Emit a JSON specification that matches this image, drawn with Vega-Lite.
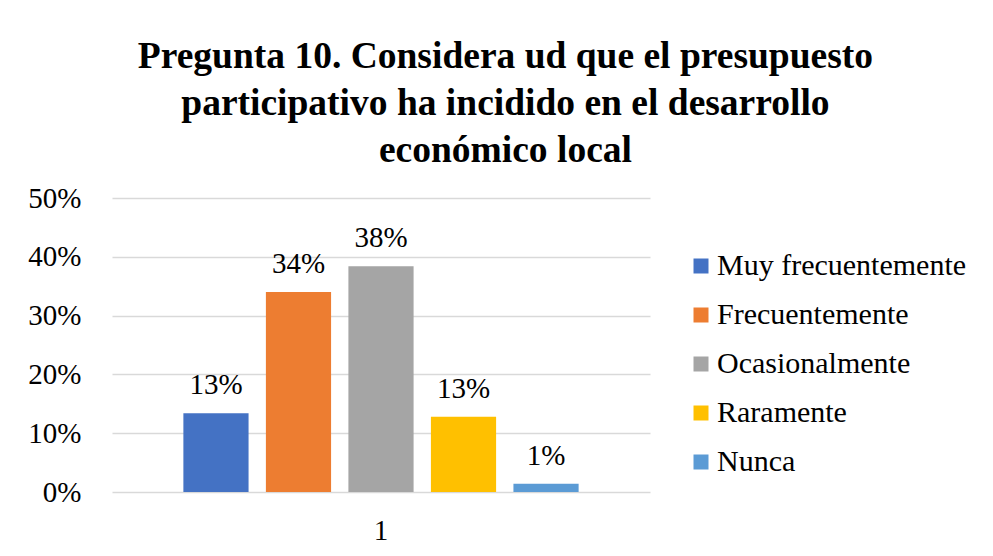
{
  "$schema": "https://vega.github.io/schema/vega-lite/v6.json",
  "autosize": {"type": "none"},
  "width": 538,
  "height": 294,
  "padding": {"left": 112, "top": 198, "right": 343, "bottom": 64},
  "background": "white",
  "title": {
    "text": ["Pregunta 10. Considera ud que el presupuesto", "participativo ha incidido en el desarrollo", "económico local"],
    "font": "Liberation Serif",
    "fontSize": 37.5,
    "fontWeight": "bold",
    "lineHeight": 47,
    "color": "black",
    "anchor": "middle",
    "frame": "bounds",
    "dx": 8,
    "offset": 15
  },
  "data": {
    "values": [
      {"grupo": "1", "respuesta": "Muy frecuentemente", "valor": 0.134},
      {"grupo": "1", "respuesta": "Frecuentemente", "valor": 0.34},
      {"grupo": "1", "respuesta": "Ocasionalmente", "valor": 0.384},
      {"grupo": "1", "respuesta": "Raramente", "valor": 0.128},
      {"grupo": "1", "respuesta": "Nunca", "valor": 0.014}
    ]
  },
  "encoding": {
    "x": {
      "field": "grupo",
      "type": "nominal",
      "scale": {"paddingInner": 0, "paddingOuter": 0.152},
      "axis": {
        "title": null,
        "labelAngle": 0,
        "labelFont": "Liberation Serif",
        "labelFontSize": 29,
        "labelColor": "black",
        "labelPadding": 24,
        "domain": false,
        "ticks": false
      }
    },
    "xOffset": {
      "field": "respuesta",
      "type": "nominal",
      "sort": ["Muy frecuentemente", "Frecuentemente", "Ocasionalmente", "Raramente", "Nunca"],
      "scale": {"paddingInner": 0.21, "paddingOuter": 0.105}
    },
    "y": {
      "field": "valor",
      "type": "quantitative",
      "scale": {"domain": [0, 0.5], "nice": false},
      "axis": {
        "title": null,
        "values": [0, 0.1, 0.2, 0.3, 0.4, 0.5],
        "format": ".0%",
        "labelFont": "Liberation Serif",
        "labelFontSize": 29,
        "labelColor": "black",
        "labelPadding": 31,
        "domain": false,
        "ticks": false,
        "grid": true,
        "gridColor": "#d9d9d9",
        "gridWidth": 1.5
      }
    }
  },
  "layer": [
    {
      "mark": {"type": "bar"},
      "encoding": {
        "color": {
          "field": "respuesta",
          "type": "nominal",
          "sort": ["Muy frecuentemente", "Frecuentemente", "Ocasionalmente", "Raramente", "Nunca"],
          "scale": {
            "domain": ["Muy frecuentemente", "Frecuentemente", "Ocasionalmente", "Raramente", "Nunca"],
            "range": ["#4472C4", "#ED7D31", "#A5A5A5", "#FFC000", "#5B9BD5"]
          },
          "legend": {
            "title": null,
            "orient": "none",
            "legendX": 574,
            "legendY": 53,
            "symbolType": "square",
            "symbolSize": 225,
            "symbolStrokeWidth": 0,
            "labelFont": "Liberation Serif",
            "labelFontSize": 30,
            "labelColor": "black",
            "labelOffset": 1,
            "labelLimit": 400,
            "rowPadding": 19
          }
        }
      }
    },
    {
      "mark": {"type": "text", "font": "Liberation Serif", "fontSize": 29, "color": "black", "baseline": "alphabetic", "dy": -19},
      "encoding": {"text": {"field": "valor", "type": "quantitative", "format": ".0%"}}
    }
  ],
  "config": {"view": {"stroke": null}}
}
